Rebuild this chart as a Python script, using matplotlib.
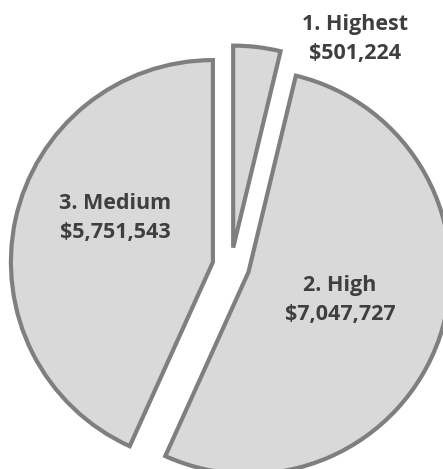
import matplotlib.pyplot as plt
import numpy as np

# data
labels = ['1. Highest', '2. High', '3. Medium']
values = [501224, 7047727, 5751543]
explode = [18.5, 18.5, 18.5]  # pixels

# label placement (offset from pie centre, in pixels)
label_pos = [(124, 227), (109, -34), (-116, 48)]

W, H = 443, 469
fig = plt.figure(figsize=(W / 100, H / 100), dpi=100)
ax = fig.add_axes([0, 0, 1, 1])

cx, cy, r = 231, 203, 202
wedges, _ = ax.pie(values, explode=explode, startangle=90, counterclock=False,
                   center=(cx, cy), radius=r, frame=True,
                   wedgeprops=dict(facecolor='#d9d9d9', edgecolor='#7f7f7f',
                                   linewidth=3, joinstyle='miter'))
ax.set_xlim(0, W)
ax.set_ylim(0, H)
ax.set_aspect('equal')
ax.axis('off')

for lab, v, (dx, dy) in zip(labels, values, label_pos):
    ax.text(cx + dx, cy + dy, f'{lab}\n${v:,}', ha='center', va='center',
            fontsize=15.5, fontweight='bold', color='#3f3f3f',
            family='Open Sans', linespacing=1.45)

fig.savefig('out.png', dpi=100)
